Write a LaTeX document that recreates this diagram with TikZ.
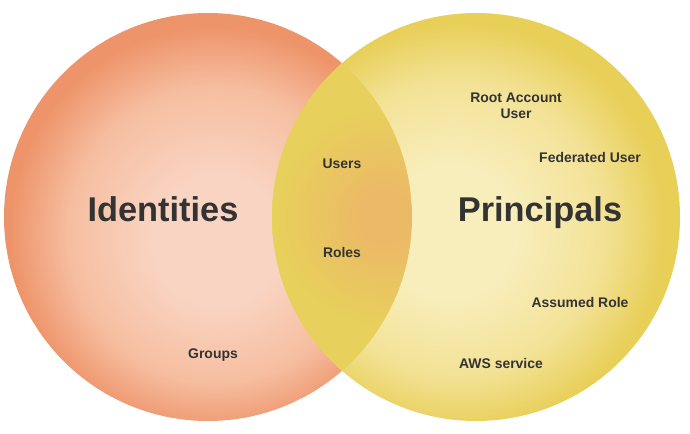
\documentclass[tikz,border=0pt]{standalone}
\usepackage{fontspec}
\setmainfont{Liberation Sans}

% palette
\definecolor{idin}{RGB}{249,212,194}
\definecolor{idmid}{RGB}{246,190,160}
\definecolor{idout}{RGB}{238,148,106}
\definecolor{prin}{RGB}{248,238,188}
\definecolor{prmid}{RGB}{243,226,150}
\definecolor{prout}{RGB}{232,207,88}
\definecolor{lensin}{RGB}{235,186,102}
\definecolor{lensout}{RGB}{232,208,92}
\definecolor{ink}{RGB}{51,51,51}

% soft radial fills with slightly offset highlights
\pgfdeclareradialshading{idshade}{\pgfpoint{1.5bp}{-3.4bp}}{color(0bp)=(idin); color(8bp)=(idin); color(18bp)=(idmid); color(25bp)=(idout); color(50bp)=(idout)}
\pgfdeclareradialshading{prshade}{\pgfpoint{-3.8bp}{-2.2bp}}{color(0bp)=(prin); color(8bp)=(prin); color(18bp)=(prmid); color(25bp)=(prout); color(50bp)=(prout)}
\pgfdeclareradialshading{lensshade}{\pgfpoint{0bp}{0bp}}{color(0bp)=(lensin); color(4bp)=(lensin); color(16bp)=(lensout); color(50bp)=(lensout)}

\tikzset{
  title/.style={font=\bfseries\fontsize{34.5}{38}\selectfont, text=ink, anchor=base, inner sep=0pt},
  item/.style={font=\bfseries\fontsize{14}{17}\selectfont, text=ink, anchor=base, inner sep=0pt, align=center},
}

\begin{document}
\begin{tikzpicture}[x=1bp,y=-1bp]
\useasboundingbox (0,0) rectangle (690,434);

% the two sets
\shade[shading=idshade] (208,217) circle (204);
\shade[shading=prshade] (476,217) circle (204);

% their overlap
\begin{scope}
  \clip (208,217) circle (204);
  \clip (476,217) circle (204);
  \shade[shading=lensshade] (385,217) circle (170);
\end{scope}

% set titles
\node[title] (identities) at (163,222) {Identities};
\node[title] (principals) at (540,222) {Principals};

% members
\node[item] (users)     at (342,169) {Users};
\node[item] (roles)     at (342,258) {Roles};
\node[item] (groups)    at (213,358) {Groups};
\node[item] (root)      at (516,119) {Root Account\\User};
\node[item] (federated) at (590,163) {Federated User};
\node[item] (assumed)   at (580,308) {Assumed Role};
\node[item] (aws)       at (501,368) {AWS service};
\end{tikzpicture}
\end{document}
